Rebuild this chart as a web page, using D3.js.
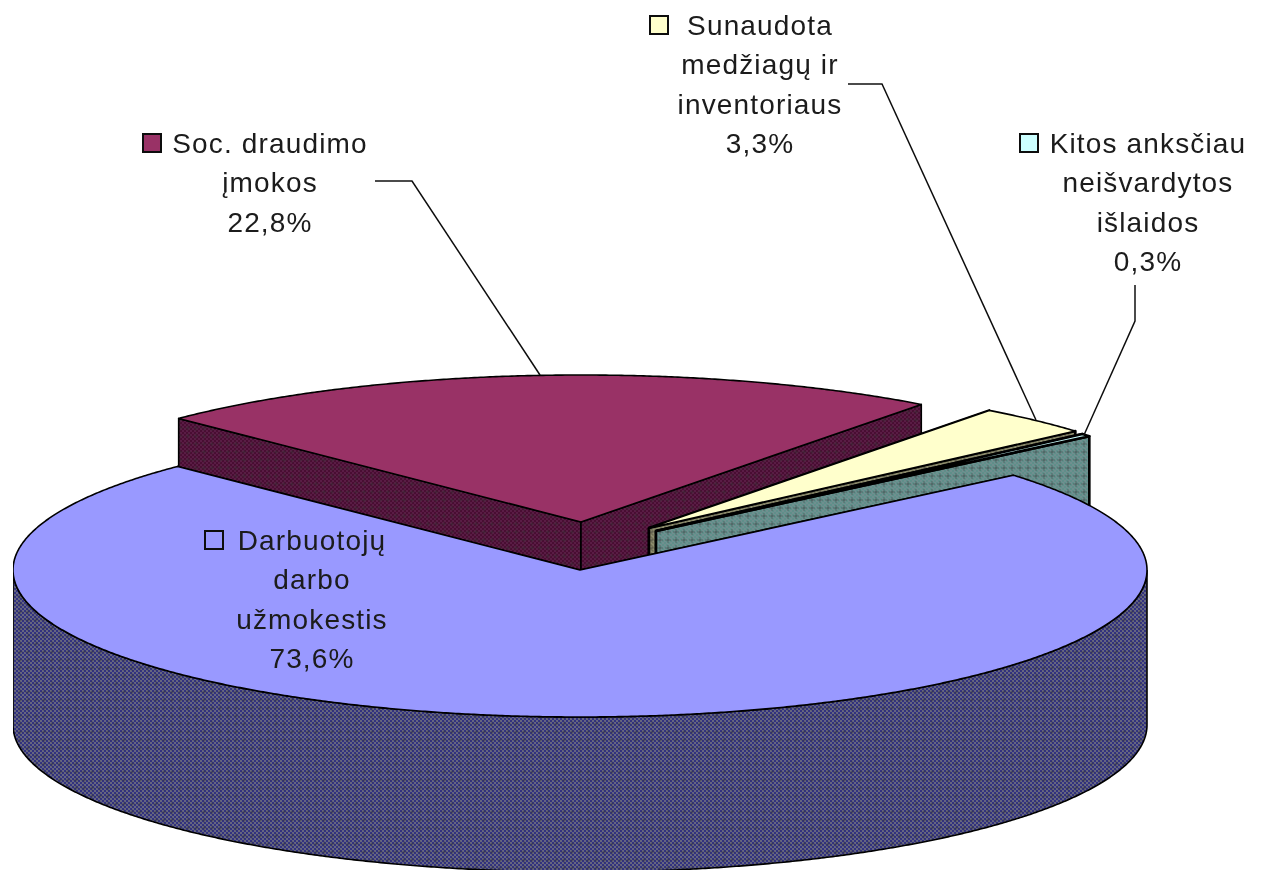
<!DOCTYPE html>
<html><head><meta charset="utf-8">
<script src="https://cdn.jsdelivr.net/npm/d3@7"></script>
<style>html,body{margin:0;background:#fff;overflow:hidden}svg{display:block}</style>
</head><body><script>
const categories=[["Soc. draudimo","įmokos"],["Sunaudota","medžiagų ir","inventoriaus"],["Kitos anksčiau","neišvardytos","išlaidos"],["Darbuotojų","darbo","užmokestis"]];
const values=[22.8,3.3,0.3,73.6];
const valueLabels=["22,8%","3,3%","0,3%","73,6%"];
const topColors=["#993366","#ffffcc","#ccffff","#9999ff"];
const wallA=["#4a0f33","#807f60","#5f8f8a","#33337f"];
const wallB=["#5a1f45","#8f8f70","#6f8f8f","#666680"];
const keyColors=["#993366","#ffffcc","#ccffff","none"];
// layout
const centers=[[581,522],[649,528],[656,531],[580,570]];
const RX=567,RY=147,DEPTH=155;
const labelX=[270,760,1148,312], labelY=[143,25,143,540], keyX=[143,650,1020,205], LINE=39.4;
const leaders=[[[375,181],[412,181],[540,375]],[[848,84],[882,84],[1036,420]],[[1135,285],[1135,321],[1084,435]]];

const W=1261,H=870;
const svg=d3.select("body").append("svg").attr("width",W).attr("height",H);
const defs=svg.append("defs");
const blur=defs.append("filter").attr("id","soft").attr("x",0).attr("y",0).attr("width","100%").attr("height","100%");
blur.append("feGaussianBlur").attr("stdDeviation",0.45);
values.forEach((v,i)=>{
  const p=defs.append("pattern").attr("id","dither"+i).attr("patternUnits","userSpaceOnUse").attr("width",8).attr("height",8);
  p.append("rect").attr("width",8).attr("height",8).attr("fill",wallA[i]);
  d3.range(0,8,2).forEach(a=>d3.range(0,8,2).forEach(b=>{
    if((a+b)%4===0) p.append("rect").attr("x",a).attr("y",b).attr("width",2).attr("height",2).attr("fill",wallB[i]);
  }));
  p.append("rect").attr("x",3).attr("y",1).attr("width",2).attr("height",6).attr("fill","#333").attr("opacity",0.22);
  p.append("rect").attr("x",1).attr("y",3).attr("width",6).attr("height",2).attr("fill","#333").attr("opacity",0.22);
});
const g=svg.append("g").attr("filter","url(#soft)");
const pie=d3.pie().sort(null).startAngle(-45.2*Math.PI/180).endAngle(314.8*Math.PI/180);
const arcs=pie(values);
const line=d3.line();
arcs.forEach((d,i)=>{
  const x=d3.scaleLinear().domain([-1,1]).range([centers[i][0]-RX,centers[i][0]+RX]);
  const y=d3.scaleLinear().domain([-1,1]).range([centers[i][1]-RY,centers[i][1]+RY]);
  const pt=a=>[x(Math.sin(a)),y(-Math.cos(a))];
  const down=p=>[p[0],p[1]+DEPTH];
  const c=[x(0),y(0)];
  const n=Math.max(2,Math.ceil((d.endAngle-d.startAngle)*180));
  const rim=d3.range(n+1).map(k=>pt(d.startAngle+(d.endAngle-d.startAngle)*k/n));
  const thin=(i===1||i===2);
  const wall={fill:`url(#dither${i})`,stroke:"#000","stroke-width":thin?2.6:1.6,"stroke-linejoin":"round"};
  const draw=(pts,attrs)=>{const s=g.append("path").attr("d",line(pts)+"Z");Object.entries(attrs).forEach(([k,v])=>s.attr(k,v));};
  [rim[0],rim[n]].forEach(e=>draw([c,e,down(e),down(c)],wall));
  const low=rim.filter(p=>p[1]>=c[1]);
  if(low.length>1) draw(low.concat(low.slice().reverse().map(down)),wall);
  draw([c].concat(rim),{fill:topColors[i],stroke:"#000","stroke-width":i===2?2.6:1.6,"stroke-linejoin":"round"});
});
// leaders
leaders.forEach(l=>g.append("path").attr("d",line(l)).attr("fill","none").attr("stroke","#111").attr("stroke-width",1.5));
// labels
categories.forEach((lines,i)=>{
  const all=lines.concat(valueLabels[i]);
  all.forEach((t,k)=>{
    g.append("text").attr("x",labelX[i]).attr("y",labelY[i]+k*LINE).attr("dy","0.36em")
     .attr("text-anchor","middle").attr("font-family","'Liberation Sans',Arial,sans-serif")
     .attr("font-size",28).attr("letter-spacing",1.15).attr("fill","#1a1a1a").text(t);
  });
  g.append("rect").attr("x",keyX[i]).attr("y",labelY[i]-9).attr("width",18).attr("height",18)
   .attr("fill",keyColors[i]).attr("stroke","#111").attr("stroke-width",2);
});
</script></body></html>
